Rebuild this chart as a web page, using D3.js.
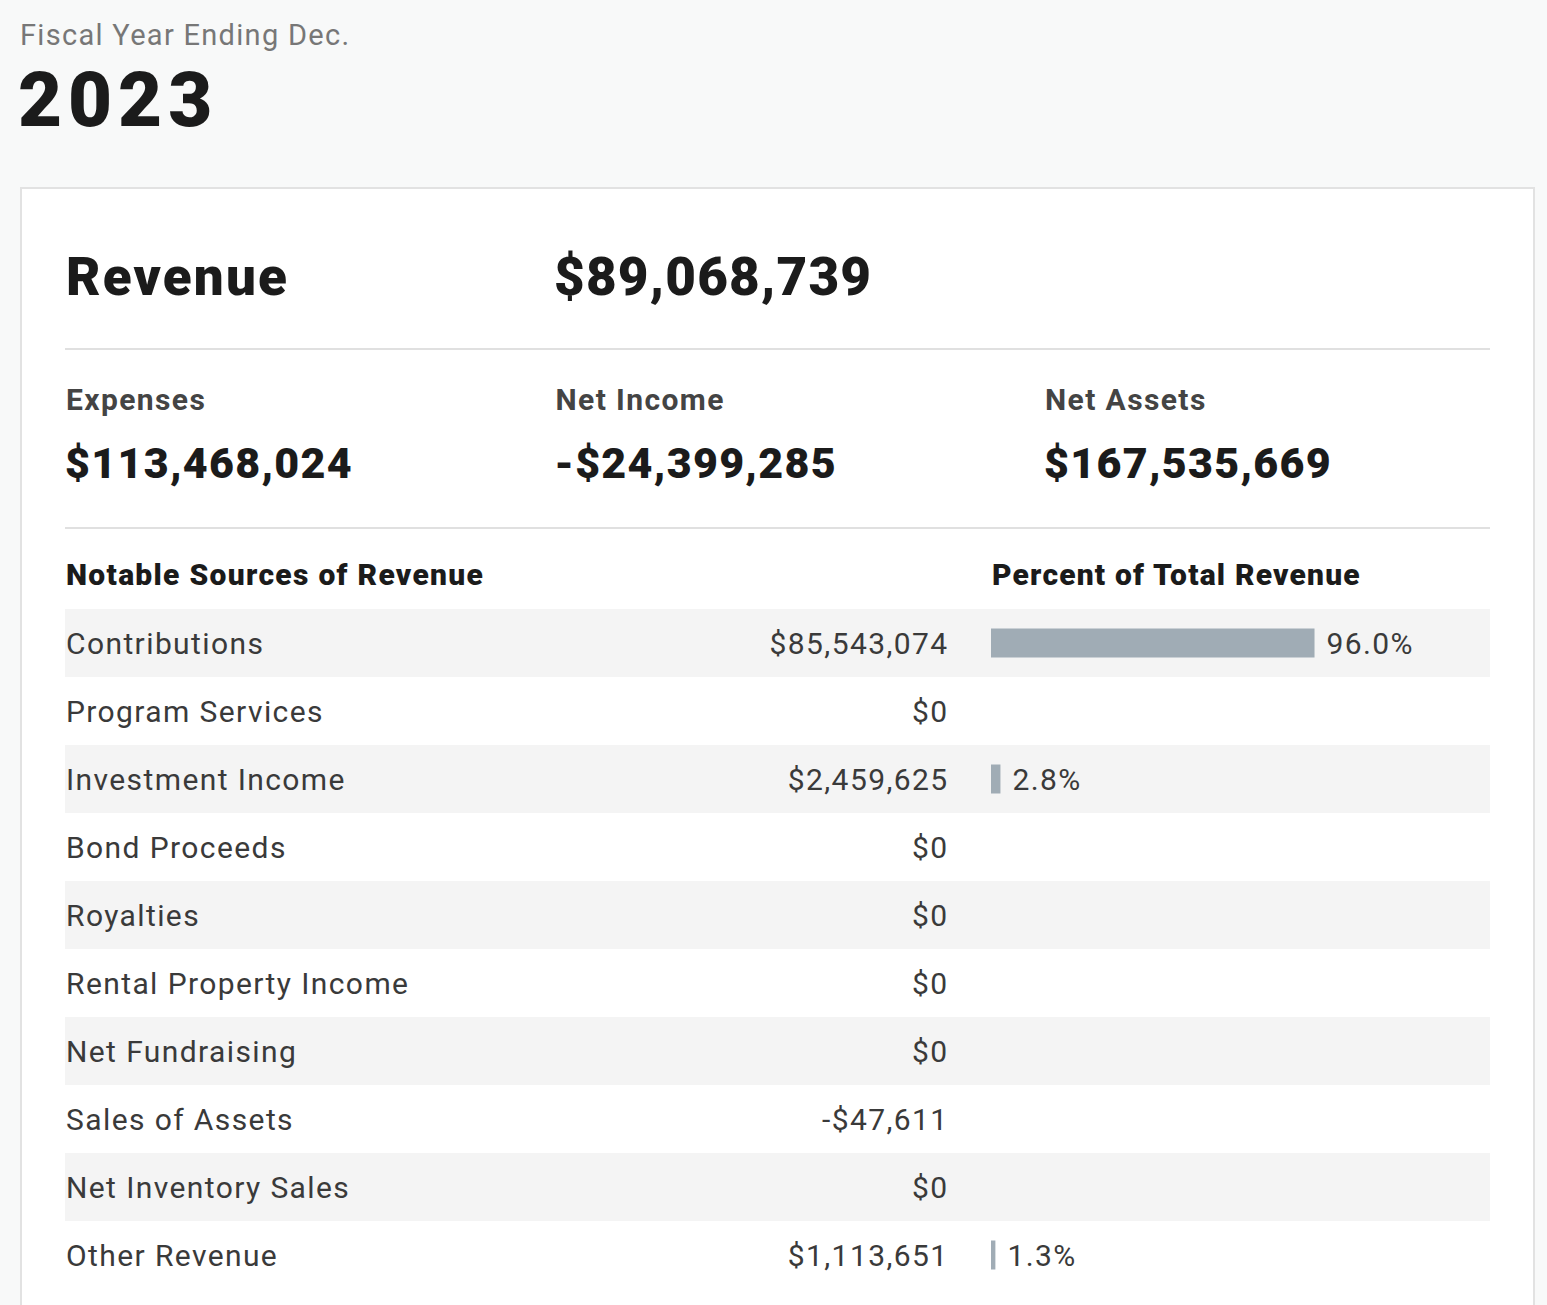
<!DOCTYPE html>
<html>
  <head>
    <title>Fiscal Year 2023 Revenue</title>
    <script src="https://d3js.org/d3.v7.min.js"></script>
    <style>
      body {
        margin: 0;
        background: #f8f9f9;
        font-family: Roboto, "Noto Sans", sans-serif;
      }
      .heavy {
        font-weight: 900;
        fill: #1b1b1b;
      }
      .label {
        font-size: 30px;
        fill: #3a3a3a;
        letter-spacing: 1.4px;
      }
    </style>
  </head>
  <body>
    <div id="chart"></div>
    <script>
      // Data
      const fiscalYear = "2023";
      const revenueTotal = "$89,068,739";
      const summaryLabels = ["Expenses", "Net Income", "Net Assets"];
      const summaryValues = ["$113,468,024", "-$24,399,285", "$167,535,669"];
      const sources = [
        "Contributions",
        "Program Services",
        "Investment Income",
        "Bond Proceeds",
        "Royalties",
        "Rental Property Income",
        "Net Fundraising",
        "Sales of Assets",
        "Net Inventory Sales",
        "Other Revenue"
      ];
      const amounts = [85543074, 0, 2459625, 0, 0, 0, 0, -47611, 0, 1113651];
      const percents = [96.0, null, 2.8, null, null, null, null, null, null, 1.3];

      const W = 1547;
      const H = 1305;

      const svg = d3
        .select("#chart")
        .append("svg")
        .attr("width", W)
        .attr("height", H);

      // Header
      svg
        .append("text")
        .attr("x", 20)
        .attr("y", 45)
        .style("font-size", "29px")
        .style("letter-spacing", "1.3px")
        .style("fill", "#777")
        .text("Fiscal Year Ending Dec.");

      svg
        .append("text")
        .attr("class", "heavy")
        .attr("x", 18)
        .attr("y", 126)
        .style("font-size", "76px")
        .style("letter-spacing", "6px")
        .text(fiscalYear);

      // Card
      svg
        .append("rect")
        .attr("x", 21)
        .attr("y", 188)
        .attr("width", 1513)
        .attr("height", 1200)
        .attr("fill", "#fff")
        .attr("stroke", "#e2e2e2")
        .attr("stroke-width", 2);

      const left = 65;
      const right = 1490;

      svg
        .append("text")
        .attr("class", "heavy")
        .attr("x", 66)
        .attr("y", 295)
        .style("font-size", "53px")
        .style("letter-spacing", "2.2px")
        .text("Revenue");

      svg
        .append("text")
        .attr("class", "heavy")
        .attr("x", 554)
        .attr("y", 295)
        .style("font-size", "53px")
        .style("letter-spacing", "1.2px")
        .text(revenueTotal);

      // Separators
      [349, 528].forEach((y) => {
        svg
          .append("line")
          .attr("x1", left)
          .attr("x2", right)
          .attr("y1", y)
          .attr("y2", y)
          .attr("stroke", "#e0e0e0")
          .attr("stroke-width", 2);
      });

      // Summary columns
      const colX = d3.scalePoint().domain(summaryLabels).range([66, 1045]);
      const summary = svg
        .selectAll("g.summary")
        .data(summaryLabels)
        .enter()
        .append("g")
        .attr("class", "summary")
        .attr("transform", (d) => `translate(${colX(d)}, 0)`);

      summary
        .append("text")
        .attr("y", 410)
        .style("font-size", "30px")
        .style("font-weight", 700)
        .style("letter-spacing", "1.4px")
        .style("fill", "#444")
        .text((d) => d);

      summary
        .append("text")
        .attr("class", "heavy")
        .attr("x", -1)
        .attr("y", 478)
        .style("font-size", "43px")
        .style("letter-spacing", "1.3px")
        .text((d, i) => summaryValues[i]);

      // Table headers
      svg
        .append("text")
        .attr("class", "heavy")
        .attr("x", 66)
        .attr("y", 585)
        .style("font-size", "30px")
        .style("letter-spacing", "1.3px")
        .text("Notable Sources of Revenue");

      const barX0 = 991;
      svg
        .append("text")
        .attr("class", "heavy")
        .attr("x", barX0 + 1)
        .attr("y", 585)
        .style("font-size", "30px")
        .style("letter-spacing", "1.2px")
        .text("Percent of Total Revenue");

      // Rows
      const y = d3.scaleBand().domain(sources).range([609, 609 + 68 * sources.length]);
      const x = d3.scaleLinear().domain([0, 100]).range([0, 337]);
      const fmt = (v) => (v < 0 ? "-$" : "$") + d3.format(",")(Math.abs(v));

      const rows = svg
        .selectAll("g.row")
        .data(sources)
        .enter()
        .append("g")
        .attr("class", "row")
        .attr("transform", (d) => `translate(0, ${y(d)})`);

      rows
        .append("rect")
        .attr("x", left)
        .attr("width", right - left)
        .attr("height", y.bandwidth())
        .attr("fill", (d, i) => (i % 2 === 0 ? "#f4f4f4" : "#fff"));

      const mid = y.bandwidth() / 2;

      rows
        .append("text")
        .attr("class", "label")
        .attr("x", 66)
        .attr("y", mid)
        .attr("dy", "0.35em")
        .text((d) => d);

      rows
        .append("text")
        .attr("class", "label")
        .attr("x", 948.5)
        .attr("y", mid)
        .attr("dy", "0.35em")
        .style("text-anchor", "end")
        .text((d, i) => fmt(amounts[i]));

      const withPct = rows.filter((d, i) => percents[i] !== null);

      withPct
        .append("rect")
        .attr("x", barX0)
        .attr("y", mid - 14.5)
        .attr("height", 29)
        .attr("width", (d) => x(percents[sources.indexOf(d)]))
        .attr("fill", "#a0acb5");

      withPct
        .append("text")
        .attr("class", "label")
        .attr("x", (d) => barX0 + x(percents[sources.indexOf(d)]) + 12)
        .attr("y", mid)
        .attr("dy", "0.35em")
        .text((d) => d3.format(".1f")(percents[sources.indexOf(d)]) + "%");
    </script>
  </body>
</html>
